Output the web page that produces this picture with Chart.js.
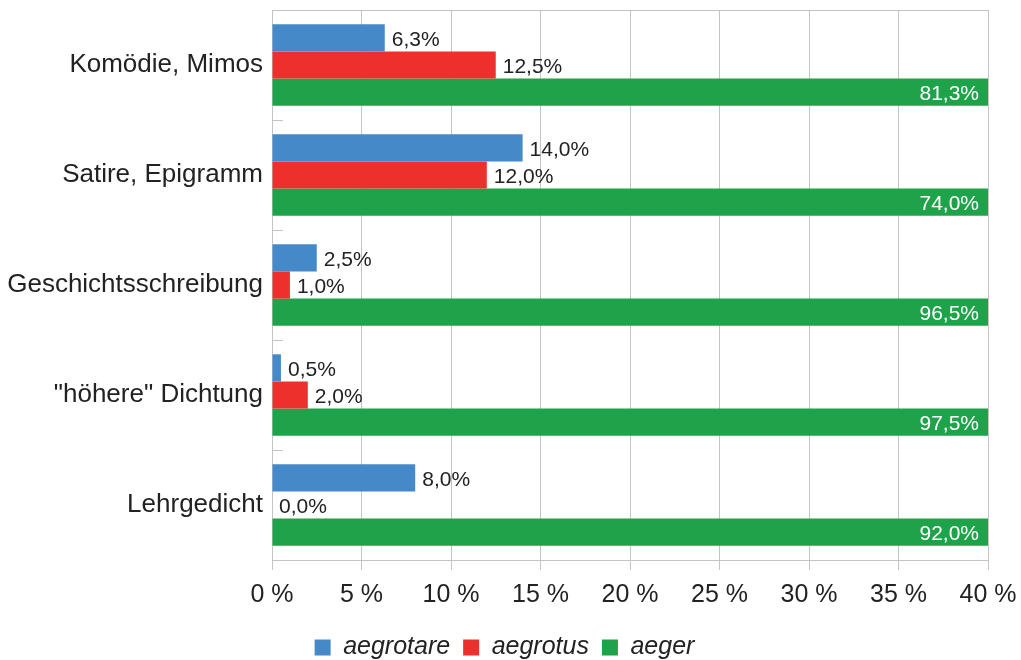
<!DOCTYPE html>
<html>
<head>
<meta charset="utf-8">
<script src="https://cdn.jsdelivr.net/npm/chart.js@4/dist/chart.umd.min.js"></script>
<style>
html,body{margin:0;padding:0;background:#fff;}
#wrap{width:1021px;height:660px;}
</style>
</head>
<body>
<div id="wrap"><canvas id="c" width="1021" height="660"></canvas></div>
<script>
const categories = ['Komödie, Mimos', 'Satire, Epigramm', 'Geschichtsschreibung', '"höhere" Dichtung', 'Lehrgedicht'];
const aegrotare = [6.3, 14.0, 2.5, 0.5, 8.0];
const aegrotus = [12.5, 12.0, 1.0, 2.0, 0.0];
const aeger = [81.3, 74.0, 96.5, 97.5, 92.0];
const seriesNames = ['aegrotare', 'aegrotus', 'aeger'];
const xMin = 0, xMax = 40, xStep = 5;

const colors = ['#4689c9', '#ee302d', '#1fa34a'];
const gridColor = '#c4c4c4';
const textColor = '#222222';
const FONT = '"Liberation Sans", Arial, sans-serif';

function fmt(v){ return v.toFixed(1).replace('.', ',') + '%'; }

const labelPlugin = {
  id: 'valLabels',
  afterDatasetsDraw(chart){
    const ctx = chart.ctx;
    const area = chart.chartArea;
    ctx.save();
    ctx.font = '21px ' + FONT;
    ctx.textBaseline = 'middle';
    chart.data.datasets.forEach((ds, di) => {
      const meta = chart.getDatasetMeta(di);
      meta.data.forEach((bar, i) => {
        const v = ds.data[i];
        const txt = fmt(v);
        const y = bar.y + 2;
        if (bar.x > area.right) {
          ctx.fillStyle = '#ffffff';
          ctx.textAlign = 'right';
          ctx.fillText(txt, area.right - 9, y);
        } else {
          ctx.fillStyle = textColor;
          ctx.textAlign = 'left';
          ctx.fillText(txt, bar.x + 7, y);
        }
      });
    });
    ctx.restore();
  }
};

const framePlugin = {
  id: 'frame',
  afterDatasetsDraw(chart){
    const ctx = chart.ctx;
    const a = chart.chartArea;
    const ys = chart.scales.y;
    ctx.save();
    ctx.strokeStyle = gridColor;
    ctx.lineWidth = 1;
    ctx.beginPath();
    ctx.moveTo(a.left, a.top + 0.5);
    ctx.lineTo(a.right, a.top + 0.5);
    for (let i = 0; i <= categories.length; i++) {
      const y = Math.round(ys.getPixelForValue(i - 0.5)) + 0.5;
      ctx.moveTo(a.left, y);
      ctx.lineTo(a.left + 11, y);
    }
    ctx.stroke();
    ctx.restore();
  }
};

new Chart(document.getElementById('c'), {
  type: 'bar',
  data: {
    labels: categories,
    datasets: [
      { label: seriesNames[0], data: aegrotare, backgroundColor: colors[0] },
      { label: seriesNames[1], data: aegrotus, backgroundColor: colors[1] },
      { label: seriesNames[2], data: aeger, backgroundColor: colors[2] }
    ]
  },
  options: {
    indexAxis: 'y',
    responsive: false,
    animation: false,
    devicePixelRatio: 1,
    layout: { padding: { top: 10, right: 12, left: 0, bottom: -10 } },
    datasets: { bar: { categoryPercentage: 0.74, barPercentage: 1.0 } },
    scales: {
      x: {
        min: xMin, max: xMax,
        ticks: { stepSize: xStep, color: textColor, font: { family: FONT, size: 25 }, padding: 10,
          callback: (v) => v + ' %' },
        grid: { color: gridColor, tickLength: 10, tickColor: gridColor },
        border: { color: gridColor },
        afterFit(s){ s.height = 62; s.paddingLeft = 0; s.paddingRight = 33; }
      },
      y: {
        ticks: { color: textColor, font: { family: FONT, size: 26 }, padding: 9 },
        grid: { display: true, drawOnChartArea: false, drawTicks: false, offset: true },
        border: { color: gridColor },
        afterFit(s){ s.width = 272; s.paddingTop = 0; s.paddingBottom = 0; }
      }
    },
    plugins: {
      legend: {
        position: 'bottom',
        labels: {
          boxWidth: 16, boxHeight: 16, padding: 13,
          color: textColor,
          font: { family: FONT, size: 25, style: 'italic' }
        }
      },
      tooltip: { enabled: false }
    }
  },
  plugins: [framePlugin, labelPlugin]
});
</script>
</body>
</html>
